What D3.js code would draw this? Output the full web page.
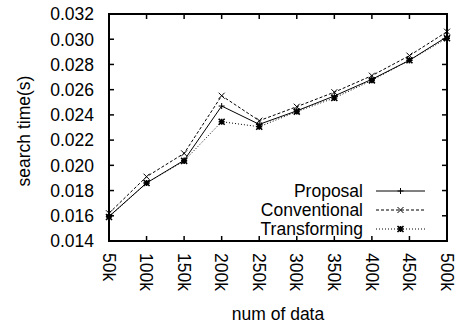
<!DOCTYPE html>
<html><head><meta charset="utf-8">
<script src="https://cdn.jsdelivr.net/npm/d3@7"></script>
<style>body{margin:0;background:#fff}svg text{font-family:"Liberation Sans",Arial,sans-serif;fill:#000}</style>
</head><body><svg id="c" width="457" height="327"></svg>
<script>
const categories = ["50k","100k","150k","200k","250k","300k","350k","400k","450k","500k"];
const proposal     = [0.01595,0.01860,0.02040,0.02470,0.02325,0.02432,0.02550,0.02682,0.02833,0.03020];
const conventional = [0.01620,0.01910,0.02095,0.02552,0.02354,0.02465,0.02580,0.02711,0.02870,0.03060];
const transforming = [0.01590,0.01860,0.02035,0.02346,0.02306,0.02426,0.02534,0.02674,0.02833,0.03008];
const yTicks = [0.014,0.016,0.018,0.020,0.022,0.024,0.026,0.028,0.030,0.032];
const seriesNames = ["Proposal","Conventional","Transforming"];

const svg = d3.select("#c");
const L=109, R=447, T=14, B=241;
const x = d3.scalePoint().domain(categories).range([L,R]);
const y = d3.scaleLinear().domain([0.014,0.032]).range([B,T]);
const fs = 17.5;

const g = svg.append("g");
yTicks.forEach(v=>{
  g.append("line").attr("x1",L).attr("x2",L+5).attr("y1",y(v)).attr("y2",y(v)).attr("stroke","#000").attr("stroke-width",1.5);
  g.append("line").attr("x1",R).attr("x2",R-5).attr("y1",y(v)).attr("y2",y(v)).attr("stroke","#000").attr("stroke-width",1.5);
  g.append("text").attr("x",L-15).attr("y",y(v)).attr("dy","0.36em").attr("text-anchor","end").attr("font-size",fs).text(d3.format(".3f")(v));
});
categories.forEach(c=>{
  g.append("line").attr("x1",x(c)).attr("x2",x(c)).attr("y1",B).attr("y2",B-5).attr("stroke","#000").attr("stroke-width",1.5);
  g.append("line").attr("x1",x(c)).attr("x2",x(c)).attr("y1",T).attr("y2",T+5).attr("stroke","#000").attr("stroke-width",1.5);
  g.append("text").attr("transform",`translate(${x(c)},${B+12}) rotate(90)`).attr("dy","0.36em").attr("text-anchor","start").attr("font-size",fs).text(c);
});
g.append("rect").attr("x",L).attr("y",T).attr("width",R-L).attr("height",B-T).attr("fill","none").attr("stroke","#000").attr("stroke-width",2);

svg.append("text").attr("x",(L+R)/2).attr("y",320).attr("text-anchor","middle").attr("font-size",fs).text("num of data");
svg.append("text").attr("transform",`translate(30,131) rotate(-90)`).attr("text-anchor","middle").attr("font-size",fs).text("search time(s)");

const styles = [
  {data:proposal, dash:null, marker:"plus"},
  {data:conventional, dash:"3,2", marker:"cross"},
  {data:transforming, dash:"1,2", marker:"star"}
];
function drawMarker(sel, type, cx, cy){
  const s=3;
  const p = d3.path();
  if(type==="plus"||type==="star"){ p.moveTo(cx-s,cy);p.lineTo(cx+s,cy);p.moveTo(cx,cy-s);p.lineTo(cx,cy+s); }
  if(type==="cross"||type==="star"){ p.moveTo(cx-s,cy-s);p.lineTo(cx+s,cy+s);p.moveTo(cx-s,cy+s);p.lineTo(cx+s,cy-s); }
  sel.append("path").attr("d",p.toString()).attr("stroke","#000").attr("stroke-width",type==="star"?1.6:1).attr("fill","none");
}
const line = d3.line().x((d,i)=>x(categories[i])).y(d=>y(d));
styles.forEach(st=>{
  svg.append("path").attr("d",line(st.data)).attr("fill","none").attr("stroke","#000").attr("stroke-width",1).attr("stroke-dasharray",st.dash);
  st.data.forEach((d,i)=>drawMarker(svg,st.marker,x(categories[i]),y(d)));
});

const legY=[191,210,229];
seriesNames.forEach((n,i)=>{
  svg.append("text").attr("x",363).attr("y",legY[i]).attr("dy","0.36em").attr("text-anchor","end").attr("font-size",fs).text(n);
  svg.append("line").attr("x1",376).attr("x2",425).attr("y1",legY[i]).attr("y2",legY[i]).attr("stroke","#000").attr("stroke-width",1).attr("stroke-dasharray",styles[i].dash);
  drawMarker(svg,styles[i].marker,400.5,legY[i]);
});
</script></body></html>
